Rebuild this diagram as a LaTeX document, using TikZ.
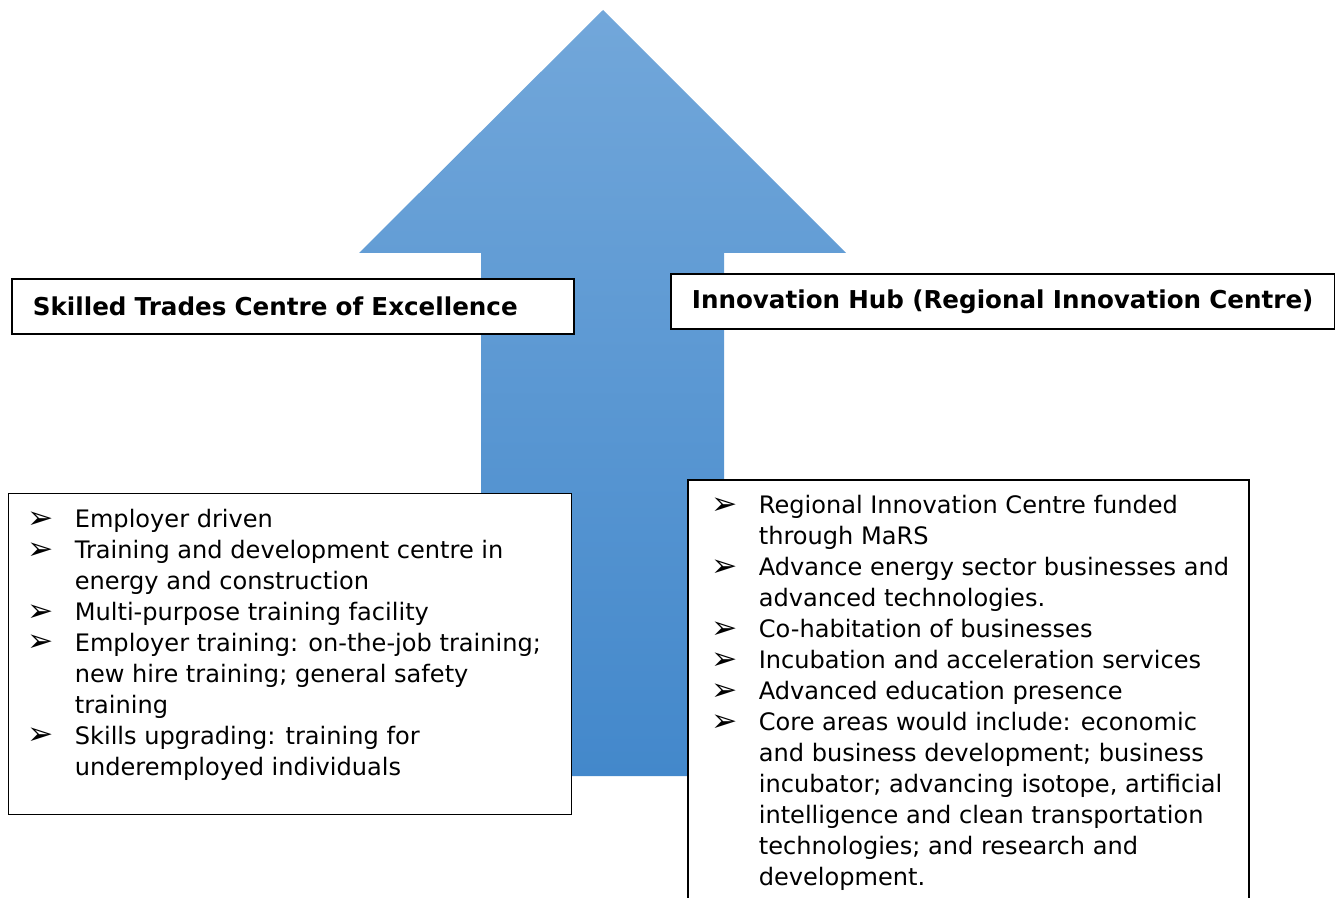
\documentclass[tikz,border=0pt]{standalone}
\usepackage{fontspec}
\setmainfont{DejaVu Sans}
\usepackage{tikz}
\usetikzlibrary{positioning, calc}
\definecolor{arrowtop}{RGB}{114,167,218}
\definecolor{arrowbottom}{RGB}{67,136,203}
\newcommand{\bul}{\makebox[0.95cm][l]{\raisebox{-0.05ex}{\scalebox{1.3}{➢}}}}
\newcommand{\cont}{\makebox[0.95cm][l]{}}

\begin{document}
\begin{tikzpicture}[
    x=0.02cm, y=-0.02cm,
    titlebox/.style={rectangle, draw=black, line width=1pt, fill=white, minimum height=1.1cm, inner xsep=0.42cm, align=left, anchor=north west, font=\fontsize{14}{17}\selectfont\bfseries},
    listbox/.style={rectangle, draw=black, line width=0.8pt, fill=white, anchor=north west, inner sep=0pt},
    listtext/.style={anchor=base west, align=left, inner sep=0pt, font=\fontsize{13.7}{17.6}\selectfont}
]
    \useasboundingbox (0,0) rectangle (1335,898);

    % big arrow
    \shade[top color=arrowtop, bottom color=arrowbottom] (603,10) -- (846,253) -- (724,253) -- (724,776) -- (481,776) -- (481,253) -- (359,253) -- cycle;

    % titles
    \node[titlebox, text width=10.4cm] (skilledtitle) at (11,278) {Skilled Trades Centre of Excellence};
    \node[titlebox, text width=12.44cm] (hubtitle) at (670,273) {Innovation Hub (Regional Innovation Centre)};

    % left list (placed by its last baseline)
    \node[listbox, minimum width=11.26cm, minimum height=6.42cm] (skilledbox) at (8,493) {};
    \node[listtext] (skilledlist) at (27,775) {%
        \bul Employer driven\\
        \bul Training and development centre in\\
        \cont energy and construction\\
        \bul Multi-purpose training facility\\
        \bul Employer training: on-the-job training;\\
        \cont new hire training; general safety\\
        \cont training\\
        \bul Skills upgrading: training for\\
        \cont underemployed individuals};

    % right list (runs off the page)
    \fill[white] (688,480) rectangle (1249,898);
    \draw[line width=0.8pt] (688,898) |- (1249,480) -- (1249,898);
    \node[listtext] (hublist) at (711,885) {%
        \bul Regional Innovation Centre funded\\
        \cont through MaRS\\
        \bul Advance energy sector businesses and\\
        \cont advanced technologies.\\
        \bul Co-habitation of businesses\\
        \bul Incubation and acceleration services\\
        \bul Advanced education presence\\
        \bul Core areas would include: economic\\
        \cont and business development; business\\
        \cont incubator; advancing isotope, artificial\\
        \cont intelligence and clean transportation\\
        \cont technologies; and research and\\
        \cont development.};
\end{tikzpicture}
\end{document}
